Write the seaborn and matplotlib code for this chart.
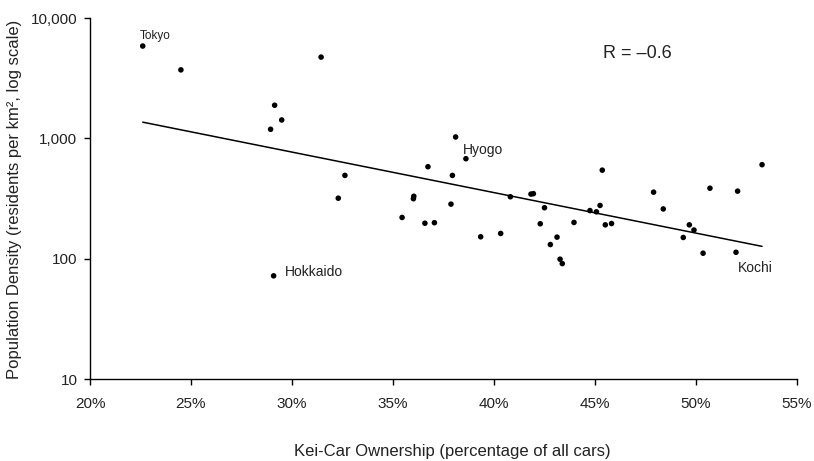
import numpy as np
import pandas as pd
import matplotlib
matplotlib.use("Agg")
import matplotlib.pyplot as plt
import seaborn as sns
from matplotlib.ticker import FixedLocator, FuncFormatter, NullLocator

# Kei-car ownership (% of all cars) and population density (residents per km^2)
kei_share = [22.61, 24.50, 29.14, 29.49, 28.94, 31.44, 29.09, 32.62, 32.29, 36.01,
             36.03, 35.45, 36.58, 37.05, 36.73, 37.94, 37.87, 38.10, 38.61, 40.81,
             41.83, 41.95, 42.50, 42.29, 39.34, 40.33, 42.79, 43.12, 43.27, 43.38,
             43.96, 44.75, 45.07, 45.25, 45.36, 45.51, 45.82, 47.90, 48.38, 49.37,
             49.67, 49.90, 50.35, 50.69, 51.98, 52.06, 53.27]
density = [5848, 3707, 1884, 1421, 1189, 4732, 72, 492, 318, 315,
           330, 220, 197, 199, 581, 492, 284, 1026, 677, 327,
           344, 347, 265, 195, 152, 162, 131, 151, 99, 91,
           200, 251, 245, 277, 544, 191, 196, 357, 259, 150,
           191, 173, 111, 385, 113, 364, 604]
labels = {"Tokyo": 0, "Hyogo": 18, "Hokkaido": 6, "Kochi": 44}

x_ticks = [20, 25, 30, 35, 40, 45, 50, 55]
y_ticks = [10, 100, 1000, 10000]

df = pd.DataFrame({"kei": kei_share, "density": density})

sns.set_theme(style="ticks")
plt.rcParams["font.family"] = ["Liberation Sans", "DejaVu Sans"]

fig = plt.figure(figsize=(8.14, 4.61), dpi=100)
ax = fig.add_axes([90 / 814, 1 - 379 / 461, (797 - 90) / 814, (379 - 18) / 461])

sns.scatterplot(data=df, x="kei", y="density", ax=ax, color="black",
                s=16, edgecolor="none", legend=False, zorder=3)

# log-linear trend line
coef = np.polyfit(df["kei"], np.log10(df["density"]), 1)
xs = np.array([df["kei"].min(), df["kei"].max()])
trend = pd.DataFrame({"kei": xs, "density": 10 ** np.polyval(coef, xs)})
sns.lineplot(data=trend, x="kei", y="density", ax=ax, color="black", lw=1.1)

ax.set_yscale("log")
ax.set_xlim(20, 55)
ax.set_ylim(10, 10000)
ax.xaxis.set_major_locator(FixedLocator(x_ticks))
ax.yaxis.set_major_locator(FixedLocator(y_ticks))
ax.yaxis.set_minor_locator(NullLocator())
ax.xaxis.set_major_formatter(FuncFormatter(lambda v, p: f"{v:.0f}%"))
ax.yaxis.set_major_formatter(FuncFormatter(lambda v, p: f"{v:,.0f}"))
ax.tick_params(axis="both", labelsize=11, length=4, width=1, color="black",
               labelcolor="#222222", direction="out")
ax.tick_params(axis="x", pad=9)
ax.tick_params(axis="y", pad=5)
for side in ["top", "right"]:
    ax.spines[side].set_visible(False)
for side in ["left", "bottom"]:
    ax.spines[side].set_color("black")
    ax.spines[side].set_linewidth(1.0)

ax.set_xlabel("")
ax.set_ylabel("")
fig.text(452 / 814, 1 - 451 / 461, "Kei-Car Ownership (percentage of all cars)",
         ha="center", va="center", fontsize=12, color="#222222")
fig.text(15 / 814, 1 - 199 / 461, "Population Density (residents per km², log scale)",
         ha="center", va="center", rotation=90, fontsize=12, color="#222222")

# point annotations
i = labels["Tokyo"]
ax.annotate("Tokyo", (kei_share[i], density[i]), xytext=(-2, 3),
            textcoords="offset points", ha="left", va="bottom", fontsize=8.5, color="#222222")
i = labels["Hyogo"]
ax.annotate("Hyogo", (kei_share[i], density[i]), xytext=(-2, 1.5),
            textcoords="offset points", ha="left", va="bottom", fontsize=10, color="#222222")
i = labels["Hokkaido"]
ax.annotate("Hokkaido", (kei_share[i], density[i]), xytext=(8, 3),
            textcoords="offset points", ha="left", va="center", fontsize=10, color="#222222")
i = labels["Kochi"]
ax.annotate("Kochi", (kei_share[i], density[i]), xytext=(1, -11),
            textcoords="offset points", ha="left", va="center", fontsize=10, color="#222222")

ax.text(637 / 814, 1 - 53 / 461, "R = \u20130.6", transform=fig.transFigure,
        ha="center", va="center", fontsize=13, color="#222222")

fig.savefig("out.png", dpi=100)
